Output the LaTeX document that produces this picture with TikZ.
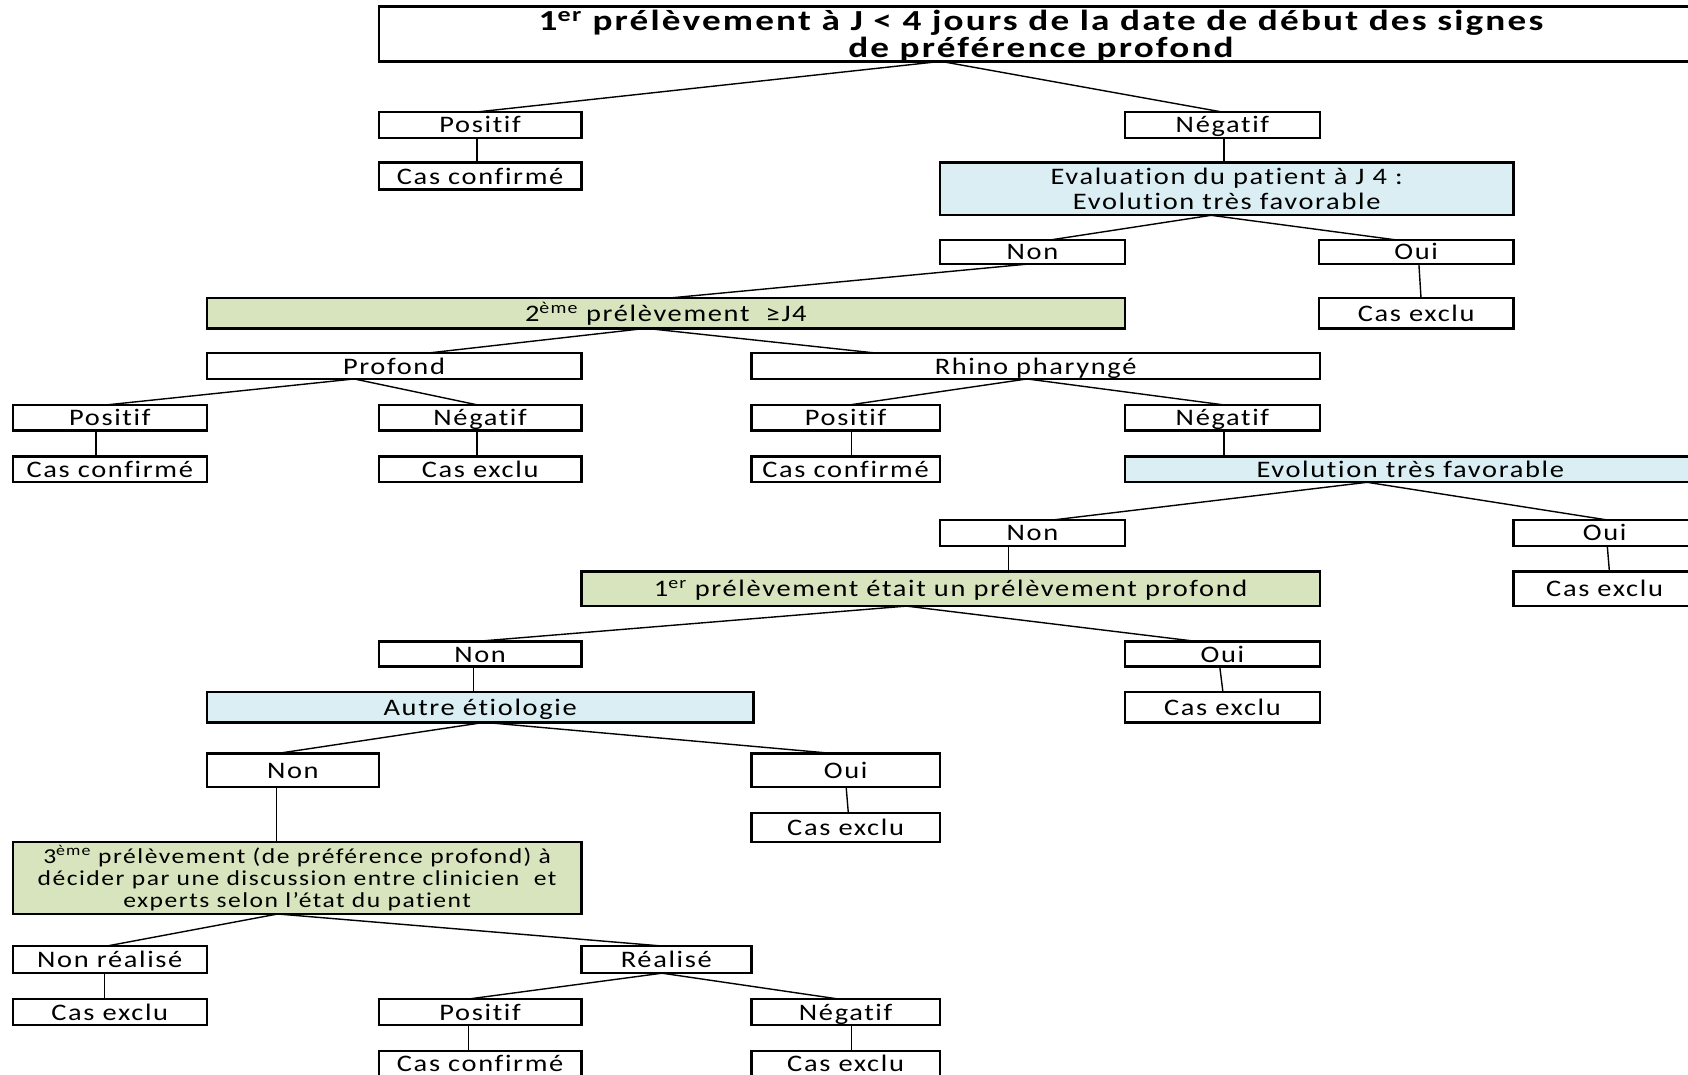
\documentclass[tikz,border=0pt]{standalone}
\usepackage{fontspec}
\setmainfont{Carlito}[FakeStretch=1.2, LetterSpace=7, Ligatures={TeX,NoCommon}]
\newfontfamily\titlefont{Carlito}[FakeStretch=1.28, LetterSpace=7.5, Ligatures={TeX,NoCommon}]
\definecolor{bluefill}{HTML}{DAEEF3}
\definecolor{greenfill}{HTML}{D7E4BD}
\tikzset{
  basebox/.style={draw=black, line width=2.2pt, fill=white, inner sep=0pt, outer sep=0pt, anchor=north west},
  box/.style={basebox, font=\fontsize{22}{24}\selectfont, text height=18pt, text depth=3pt},
  bluebox/.style={box, fill=bluefill},
  greenbox/.style={box, fill=greenfill},
  link/.style={line width=1.3pt}
}
\newcommand\mkbox[7]{%
  \node[#6, minimum width={#4pt-#2pt}, minimum height={#5pt-#3pt}] (#1) at (#2,#3) {#7};}
\newcommand\conn[4]{%
  \draw[link] ([xshift=#2pt]#1.south west) -- ([xshift=#4pt]#3.north west);}
\begin{document}
\begin{tikzpicture}[x=1pt,y=-1pt]
\useasboundingbox (0,0) rectangle (1568,998);
\clip (0,0) rectangle (1568,998);
% level 0
\node[basebox, minimum width=1230pt, minimum height=51pt] (top) at (352,6) {};
\node[align=center, inner sep=0pt, font=\titlefont\bfseries\fontsize{27}{22}\selectfont]
  (toptext) at ([yshift=-2pt]top.center)
  {1\textsuperscript{er} prélèvement à J < 4 jours de la date de début des signes\\de préférence profond};
\mkbox{pos1}{352}{104}{540}{128}{box}{Positif}
\mkbox{cc1}{352}{151}{540}{176}{box}{Cas confirmé}
\mkbox{neg1}{1045}{104}{1226}{128}{box}{Négatif}
\node[basebox, fill=bluefill, minimum width=533pt, minimum height=49pt, align=center,
  font=\fontsize{22}{24}\selectfont] (eval) at (873,151)
  {Evaluation du patient à J 4 :\\Evolution très favorable};
\mkbox{non1}{873}{223}{1045}{245}{box}{Non}
\mkbox{oui1}{1225}{223}{1406}{245}{box}{Oui}
\mkbox{ex1}{1225}{277}{1406}{305}{box}{Cas exclu}
\mkbox{p2}{192}{277}{1045}{305}{greenbox}{2\textsuperscript{ème} prélèvement \ ≥J4}
\mkbox{prof}{192}{328}{540}{352}{box}{Profond}
\mkbox{rhino}{698}{328}{1226}{352}{box}{Rhino pharyngé}
\mkbox{pos2}{12}{376}{192}{400}{box}{Positif}
\mkbox{cc2}{12}{424}{192}{448}{box}{Cas confirmé}
\mkbox{neg2}{352}{376}{540}{400}{box}{Négatif}
\mkbox{ex2}{352}{424}{540}{448}{box}{Cas exclu}
\mkbox{pos3}{698}{376}{873}{400}{box}{Positif}
\mkbox{cc3}{698}{424}{873}{448}{box}{Cas confirmé}
\mkbox{neg3}{1045}{376}{1226}{400}{box}{Négatif}
\mkbox{evol}{1045}{424}{1575}{448}{bluebox}{Evolution très favorable}
\mkbox{non2}{873}{483}{1045}{507}{box}{Non}
\mkbox{oui2}{1406}{483}{1575}{507}{box}{Oui}
\mkbox{ex3}{1406}{531}{1575}{563}{box}{Cas exclu}
\mkbox{p1}{540}{531}{1226}{563}{greenbox}{1\textsuperscript{er} prélèvement était un prélèvement profond}
\mkbox{non3}{352}{596}{540}{619}{box}{Non}
\mkbox{oui3}{1045}{596}{1226}{619}{box}{Oui}
\mkbox{ex4}{1045}{643}{1226}{671}{box}{Cas exclu}
\mkbox{autre}{192}{643}{700}{671}{bluebox}{Autre étiologie}
\mkbox{non4}{192}{700}{352}{731}{box}{Non}
\mkbox{oui4}{698}{700}{873}{731}{box}{Oui}
\mkbox{ex5}{698}{755}{873}{782}{box}{Cas exclu}
\node[basebox, fill=greenfill, minimum width=528pt, minimum height=67pt, align=center,
  font=\fontsize{19.8}{20.5}\selectfont] (p3) at (12,782)
  {3\textsuperscript{ème} prélèvement (de préférence profond) à\\décider par une discussion entre clinicien~ et\\experts selon l'état du patient};
\mkbox{nonr}{12}{879}{192}{904}{box}{Non réalisé}
\mkbox{real}{540}{879}{698}{904}{box}{Réalisé}
\mkbox{ex6}{12}{928}{192}{952}{box}{Cas exclu}
\mkbox{pos5}{352}{928}{540}{952}{box}{Positif}
\mkbox{neg5}{698}{928}{873}{952}{box}{Négatif}
\mkbox{cc5}{352}{976}{540}{1000}{box}{Cas confirmé}
\mkbox{ex7}{698}{976}{873}{1000}{box}{Cas exclu}
% connectors
\conn{top}{522}{pos1}{91}
\conn{top}{522}{neg1}{90}
\conn{pos1}{91}{cc1}{91}
\conn{neg1}{92}{eval}{264}
\conn{eval}{252}{non1}{102}
\conn{eval}{252}{oui1}{73}
\conn{oui1}{93}{ex1}{95}
\conn{non1}{85}{p2}{428}
\conn{p2}{408}{prof}{205}
\conn{p2}{408}{rhino}{116}
\conn{prof}{137}{pos2}{88}
\conn{prof}{137}{neg2}{91}
\conn{pos2}{77}{cc2}{77}
\conn{neg2}{91}{ex2}{91}
\conn{rhino}{256}{pos3}{92}
\conn{rhino}{256}{neg3}{91}
\conn{pos3}{93}{cc3}{93}
\conn{neg3}{92}{evol}{92}
\conn{evol}{225}{non2}{105}
\conn{evol}{225}{oui2}{87}
\conn{non2}{64}{p1}{397}
\conn{oui2}{87}{ex3}{89}
\conn{p1}{302}{non3}{88}
\conn{p1}{302}{oui3}{68}
\conn{oui3}{88}{ex4}{91}
\conn{non3}{88}{autre}{248}
\conn{autre}{258}{non4}{65}
\conn{autre}{258}{oui4}{77}
\conn{oui4}{88}{ex5}{90}
\conn{non4}{65}{p3}{245}
\conn{p3}{246}{nonr}{86}
\conn{p3}{246}{real}{78}
\conn{nonr}{85}{ex6}{85}
\conn{real}{75}{pos5}{83}
\conn{real}{75}{neg5}{81}
\conn{pos5}{83}{cc5}{83}
\conn{neg5}{93}{ex7}{93}
\end{tikzpicture}
\end{document}
